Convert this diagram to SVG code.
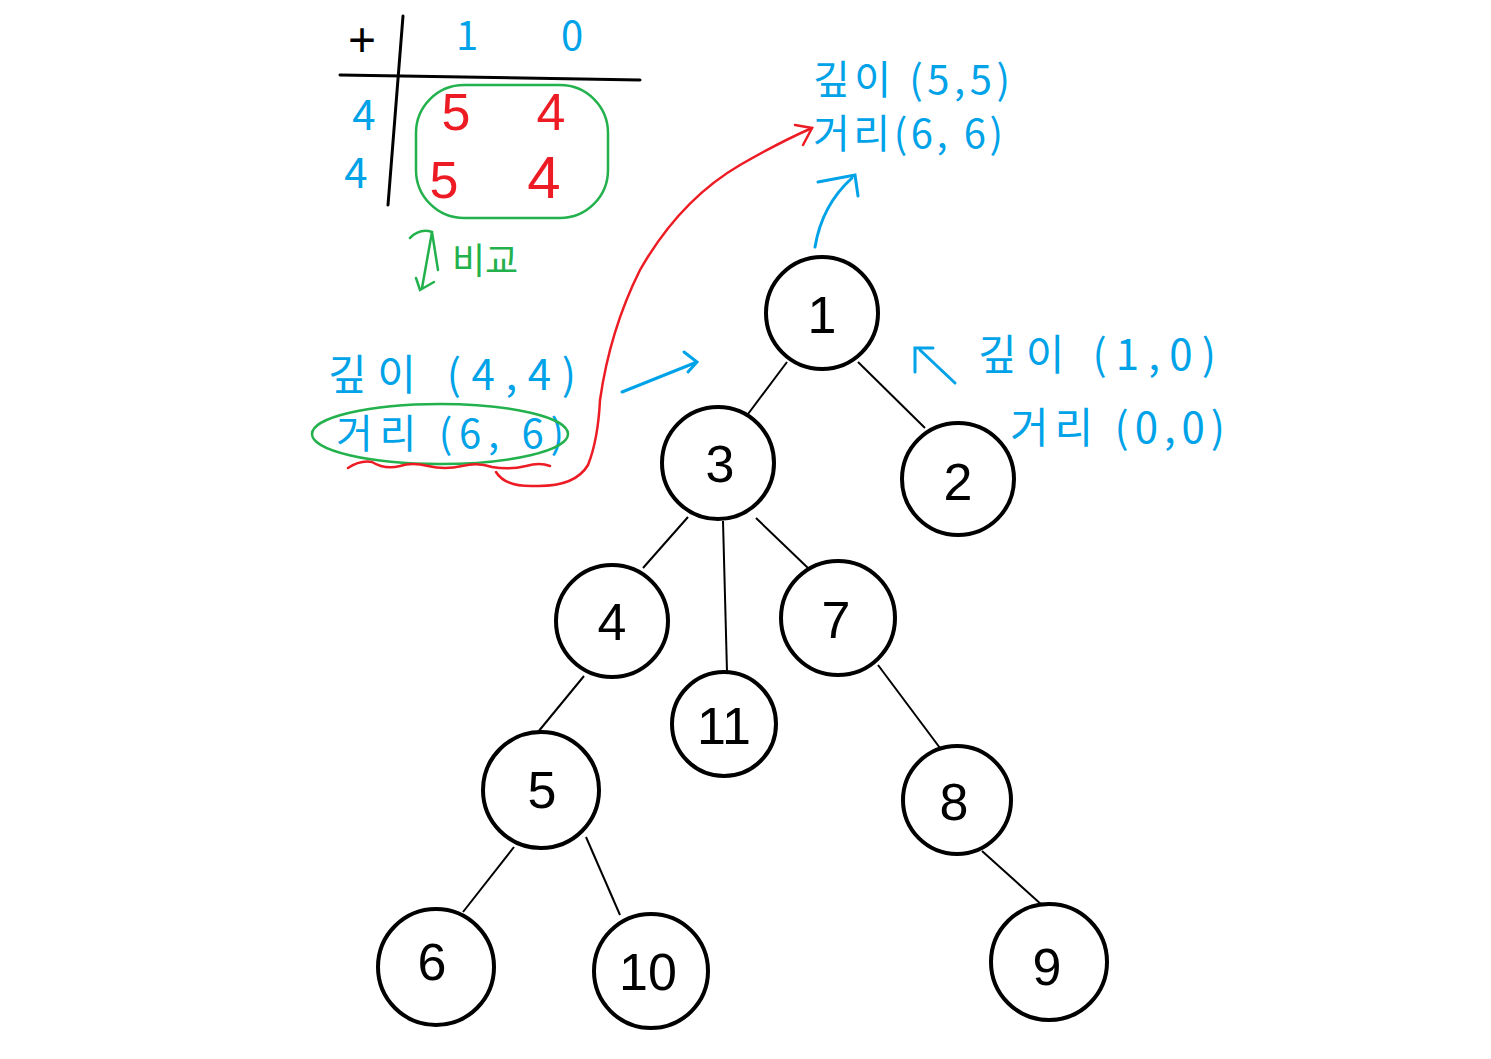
<svg xmlns="http://www.w3.org/2000/svg" width="1491" height="1059" viewBox="0 0 1491 1059">
<style>
.node circle{fill:#fff;stroke:#000;stroke-width:4}
.node text{font-family:"Liberation Sans",sans-serif;font-size:52px;fill:#000;text-anchor:middle;font-weight:300}
.edge{stroke:#000;stroke-width:2;fill:none}
.b{fill:#00a2e8;font-family:"Noto Sans CJK KR","Liberation Sans",sans-serif;font-weight:400}
.r{fill:#ed1c24;font-family:"Liberation Sans",sans-serif}
.k{fill:#000;font-family:"Liberation Sans",sans-serif}
.g{fill:#22b14c;font-family:"Noto Sans CJK KR",sans-serif;font-weight:400}
.bl{stroke:#00a2e8;stroke-width:3;fill:none;stroke-linecap:round}
.rl{stroke:#ed1c24;stroke-width:2.5;fill:none;stroke-linecap:round}
.gl{stroke:#22b14c;stroke-width:2.5;fill:none;stroke-linecap:round}
.kl{stroke:#000;stroke-width:3;fill:none;stroke-linecap:round}
</style>
<rect width="1491" height="1059" fill="#fff"/>
<g id="connectors">
<line class="edge" x1="787" y1="362" x2="748" y2="414"/>
<line class="edge" x1="858" y1="362" x2="925" y2="428"/>
<line class="edge" x1="688" y1="517" x2="643" y2="568"/>
<line class="edge" x1="723" y1="521" x2="727" y2="672"/>
<line class="edge" x1="756" y1="518" x2="808" y2="568"/>
<line class="edge" x1="584" y1="676" x2="538" y2="732"/>
<line class="edge" x1="878" y1="665" x2="940" y2="748"/>
<line class="edge" x1="514" y1="847" x2="463" y2="912"/>
<line class="edge" x1="586" y1="837" x2="620" y2="915"/>
<line class="edge" x1="982" y1="851" x2="1043" y2="906"/>
</g>
<g id="n1" class="node"><circle cx="822" cy="313" r="56"/><text x="822" y="333">1</text></g>
<g id="n3" class="node"><circle cx="718" cy="463" r="56"/><text x="720" y="482">3</text></g>
<g id="n2" class="node"><circle cx="958" cy="479" r="56"/><text x="958" y="500">2</text></g>
<g id="n4" class="node"><circle cx="612" cy="621" r="56"/><text x="612" y="640">4</text></g>
<g id="n11" class="node"><circle cx="724" cy="724" r="52"/><text x="724" y="744">11</text></g>
<g id="n7" class="node"><circle cx="838" cy="618" r="57"/><text x="836" y="638">7</text></g>
<g id="n5" class="node"><circle cx="541" cy="790" r="58"/><text x="542" y="808">5</text></g>
<g id="n8" class="node"><circle cx="957" cy="800" r="54"/><text x="954" y="820">8</text></g>
<g id="n6" class="node"><circle cx="436" cy="967" r="58"/><text x="432" y="980">6</text></g>
<g id="n10" class="node"><circle cx="651" cy="971" r="57"/><text x="648" y="990">10</text></g>
<g id="n9" class="node"><circle cx="1049" cy="962" r="58"/><text x="1047" y="985">9</text></g>
<g id="table">
<line class="kl" x1="403" y1="16" x2="388" y2="205"/>
<line class="kl" x1="340" y1="75" x2="640" y2="80"/>
<text class="k" x="362" y="56" font-size="48" text-anchor="middle">+</text>
<text class="b" x="467" y="50" font-size="40" text-anchor="middle">1</text>
<text class="b" x="572" y="50" font-size="40" text-anchor="middle">0</text>
<text class="b" x="364" y="130" font-size="42" text-anchor="middle">4</text>
<text class="b" x="356" y="188" font-size="42" text-anchor="middle">4</text>
<text class="r" x="456" y="130" font-size="52" text-anchor="middle">5</text>
<text class="r" x="551" y="130" font-size="52" text-anchor="middle">4</text>
<text class="r" x="444" y="198" font-size="52" text-anchor="middle">5</text>
<text class="r" x="544" y="198" font-size="60" text-anchor="middle">4</text>
<rect class="gl" x="416" y="85" width="192" height="133" rx="48"/>
<path class="gl" d="M410 238 Q420 228 432 232 L422 288 M416 278 L420 290 L434 282 M432 232 L438 270"/>
<text class="g" x="452" y="274" font-size="36">비교</text>
</g>
<g id="top-label">
<text class="b" x="813" y="94" font-size="40" textLength="197">깊이 (5,5)</text>
<text class="b" x="813" y="148" font-size="40" textLength="190">거리(6, 6)</text>
<path class="bl" d="M815 247 Q822 205 852 178"/>
<path class="bl" d="M818 182 L855 175 L858 196"/>
</g>
<g id="left-label">
<text class="b" x="328" y="390" font-size="42" textLength="248">깊이  (4,4)</text>
<text class="b" x="336" y="448" font-size="40" textLength="228">거리  (6, 6)</text>
<ellipse class="gl" cx="440" cy="434" rx="128" ry="30"/>
<path class="rl" d="M348 468 Q360 460 372 462 Q385 470 400 466 Q412 462 428 466 Q445 470 462 466 Q478 462 492 467 Q510 470 526 466 Q540 462 550 466"/>
<path class="rl" d="M496 472 Q505 487 535 486 Q575 487 588 465 Q598 440 600 400 Q610 330 640 270 Q680 200 740 165 Q780 142 812 128"/>
<path class="rl" d="M795 125 L812 128 L803 145"/>
<path class="bl" d="M622 392 L697 362 M684 352 L697 362 L688 372"/>
</g>
<g id="right-label">
<path class="bl" d="M955 383 L920 350 M915 372 L915 348 L933 348"/>
<text class="b" x="978" y="370" font-size="42" textLength="238">깊이  (1,0)</text>
<text class="b" x="1010" y="443" font-size="42" textLength="215">거리 (0,0)</text>
</g>
</svg>
